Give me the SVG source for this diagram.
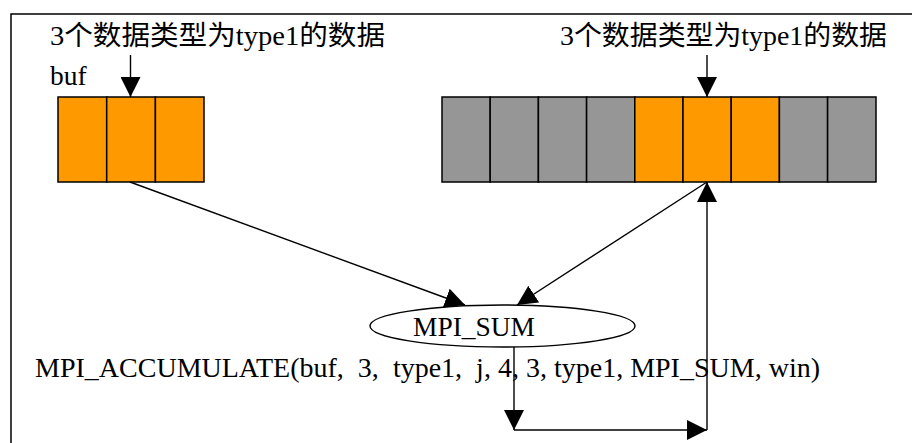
<svg xmlns="http://www.w3.org/2000/svg" width="912" height="443" viewBox="0 0 912 443">
<style>
text{font-family:"Liberation Serif","Noto Sans CJK SC",serif;fill:#000}
.lbl{font-size:27.5px}
.cell{stroke:#000;stroke-width:1.5}
.or{fill:#FF9900}
.gr{fill:#969696}
.ln{stroke:#000;stroke-width:1.4;fill:none}
</style>
<defs>
<marker id="ah" markerUnits="userSpaceOnUse" markerWidth="20" markerHeight="20" refX="20" refY="10" orient="auto" viewBox="0 0 20 20">
<path d="M0,0 L20,10 L0,20 z" fill="#000"/>
</marker>
</defs>
<rect x="0" y="0" width="912" height="443" fill="#fff"/>
<path d="M11,443 V14 H912" fill="none" stroke="#000" stroke-width="1.5"/>
<g id="label-left"><text class="lbl" x="50" y="45" textLength="335" lengthAdjust="spacingAndGlyphs">3个数据类型为type1的数据</text></g>
<g id="label-right"><text class="lbl" x="560" y="45" textLength="327" lengthAdjust="spacingAndGlyphs">3个数据类型为type1的数据</text></g>
<g id="buf-label"><text class="lbl" x="50" y="85">buf</text></g>
<g id="buf">
<rect class="cell or" x="58" y="97" width="48.7" height="85"/>
<rect class="cell or" x="106.7" y="97" width="48.7" height="85"/>
<rect class="cell or" x="155.4" y="97" width="48.6" height="85"/>
</g>
<g id="window">
<rect class="cell gr" x="442" y="97" width="48.2" height="85"/>
<rect class="cell gr" x="490.2" y="97" width="48.2" height="85"/>
<rect class="cell gr" x="538.4" y="97" width="48.2" height="85"/>
<rect class="cell gr" x="586.6" y="97" width="48.2" height="85"/>
<rect class="cell or" x="634.8" y="97" width="48.2" height="85"/>
<rect class="cell or" x="683" y="97" width="48.2" height="85"/>
<rect class="cell or" x="731.2" y="97" width="48.2" height="85"/>
<rect class="cell gr" x="779.4" y="97" width="48.2" height="85"/>
<rect class="cell gr" x="827.6" y="97" width="48.4" height="85"/>
</g>
<g id="mpi-sum">
<ellipse cx="502.5" cy="326" rx="132.5" ry="21" fill="#fff" stroke="#000" stroke-width="1.4"/>
<text class="lbl" x="413" y="336" textLength="122" lengthAdjust="spacingAndGlyphs">MPI_SUM</text>
</g>
<g id="call-label"><text class="lbl" x="35" y="377" textLength="785" lengthAdjust="spacingAndGlyphs" xml:space="preserve">MPI_ACCUMULATE(buf,  3,  type1,  j, 4, 3, type1, MPI_SUM, win)</text></g>
<g id="connectors">
<line class="ln" x1="130.5" y1="55" x2="130.5" y2="97" marker-end="url(#ah)"/>
<line class="ln" x1="707" y1="55" x2="707" y2="97" marker-end="url(#ah)"/>
<line class="ln" x1="130" y1="182" x2="465" y2="305" marker-end="url(#ah)"/>
<line class="ln" x1="707" y1="182" x2="517" y2="305" marker-end="url(#ah)"/>
<line class="ln" x1="514" y1="347" x2="514" y2="430" marker-end="url(#ah)"/>
<line class="ln" x1="514" y1="430" x2="707" y2="430" marker-end="url(#ah)"/>
<line class="ln" x1="707" y1="430" x2="707" y2="182" marker-end="url(#ah)"/>
</g>
</svg>
